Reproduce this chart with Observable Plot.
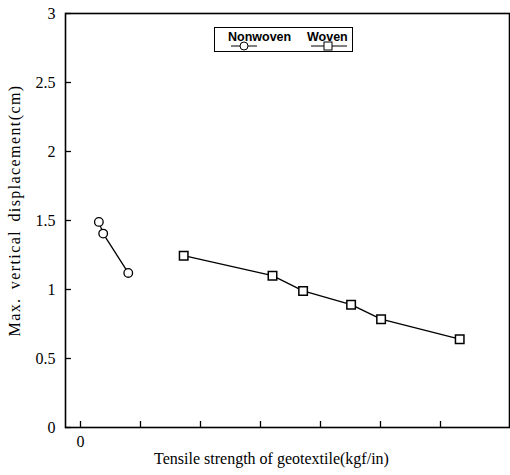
<!DOCTYPE html>
<html>
<head>
<meta charset="utf-8">
<script src="https://cdn.jsdelivr.net/npm/d3@7"></script>
<script src="https://cdn.jsdelivr.net/npm/@observablehq/plot@0.6"></script>
<style>
  body { margin: 0; background: #fff; }
  #wrap { position: relative; width: 510px; height: 475px; }
  #legend {
    position: absolute; left: 214px; top: 27px; width: 139px; height: 25px;
    border: 1px solid #000; box-sizing: border-box;
    font-family: "Liberation Sans", Arial, sans-serif; font-weight: bold; font-size: 12.5px;
  }
  .lg { position: absolute; top: 2px; line-height: 14px; white-space: nowrap; }
  #legend svg { position: absolute; left: 0; top: 0; }
</style>
</head>
<body>
<div id="wrap"></div>
<script>
// Data
const nonwovenX = [15.3, 18.9, 39.8];
const nonwovenY = [1.49, 1.405, 1.12];
const wovenX = [86, 160, 185.5, 225.5, 250.5, 316];
const wovenY = [1.245, 1.1, 0.99, 0.89, 0.785, 0.64];
const xTicks = [0, 50, 100, 150, 200, 250, 300];
const yTicks = [0, 0.5, 1, 1.5, 2, 2.5, 3];
const xTickLabels = ["0", "", "", "", "", "", ""];
const yTickLabels = ["0", "0.5", "1", "1.5", "2", "2.5", "3"];
const seriesNames = ["Nonwoven", "Woven"];
const xTitle = "Tensile strength of geotextile(kgf/in)";
const yTitle = "Max. vertical displacement(cm)";

const nonwoven = nonwovenX.map((x, i) => ({x, y: nonwovenY[i], s: seriesNames[0]}));
const woven = wovenX.map((x, i) => ({x, y: wovenY[i], s: seriesNames[1]}));

const serif = "'Liberation Serif', 'Times New Roman', serif";

const W = 510, H = 475, mL = 65, mR = 1, mT = 13, mB = 48, tickLen = 6;
const plotW = W - mL - mR, plotH = H - mT - mB;

const chart = Plot.plot({
  width: W,
  height: H,
  marginLeft: mL,
  marginRight: mR,
  marginTop: mT,
  marginBottom: mB,
  style: {fontFamily: serif, fontSize: "16px", color: "#000", background: "#fff"},
  x: {domain: [-12.5, 357.5]},
  y: {domain: [0, 3]},
  marks: [
    Plot.axisX({ticks: xTicks, tickSize: 0, tickPadding: 8, tickFormat: (d) => xTickLabels[xTicks.indexOf(d)], label: null, fontSize: 16, fontFamily: serif}),
    Plot.axisY({ticks: yTicks, tickSize: 0, tickPadding: 10, tickFormat: (d) => yTickLabels[yTicks.indexOf(d)], label: null, fontSize: 16, fontFamily: serif}),
    // inward tick marks
    Plot.ruleX(xTicks, {x: (d) => d, insetTop: plotH - tickLen, stroke: "#000", strokeWidth: 1.3}),
    Plot.ruleY(yTicks, {y: (d) => d, insetRight: plotW - tickLen, stroke: "#000", strokeWidth: 1.3}),
    Plot.frame({stroke: "#000", strokeWidth: 1.6}),
    Plot.text([xTitle], {frameAnchor: "bottom", dy: 36, dx: -16, fontSize: 16, fontFamily: serif}),
    Plot.text([yTitle], {frameAnchor: "left", textAnchor: "middle", rotate: -90, dx: -51, dy: -10, fontSize: 16, fontFamily: serif}),
    Plot.line(nonwoven, {x: "x", y: "y", stroke: "#000", strokeWidth: 1.3}),
    Plot.line(woven, {x: "x", y: "y", stroke: "#000", strokeWidth: 1.3}),
    Plot.dot(nonwoven, {x: "x", y: "y", r: 4.3, fill: "#fff", stroke: "#000", strokeWidth: 1.3}),
    Plot.dot(woven, {x: "x", y: "y", r: 4.8, symbol: "square", fill: "#fff", stroke: "#000", strokeWidth: 1.5})
  ]
});

// widen the letter spacing of the y title like the reference
d3.select(chart).selectAll("text").filter(function () { return this.textContent === yTitle; })
  .attr("letter-spacing", "1.4px").style("word-spacing", "3px");

const wrap = document.getElementById("wrap");
wrap.appendChild(chart);

const legend = document.createElement("div");
legend.id = "legend";
legend.innerHTML =
  '<span class="lg" style="left:13px">' + seriesNames[0] + '</span>' +
  '<span class="lg" style="left:92px">' + seriesNames[1] + '</span>' +
  '<svg width="139" height="25">' +
  '<line x1="16" y1="18" x2="42" y2="18" stroke="#000" stroke-width="1"/>' +
  '<circle cx="29" cy="18" r="4" fill="#fff" stroke="#000" stroke-width="1"/>' +
  '<line x1="96" y1="18" x2="132" y2="18" stroke="#000" stroke-width="1"/>' +
  '<rect x="109" y="14" width="8" height="8" fill="#fff" stroke="#000" stroke-width="1"/>' +
  '</svg>';
wrap.appendChild(legend);
</script>
</body>
</html>
